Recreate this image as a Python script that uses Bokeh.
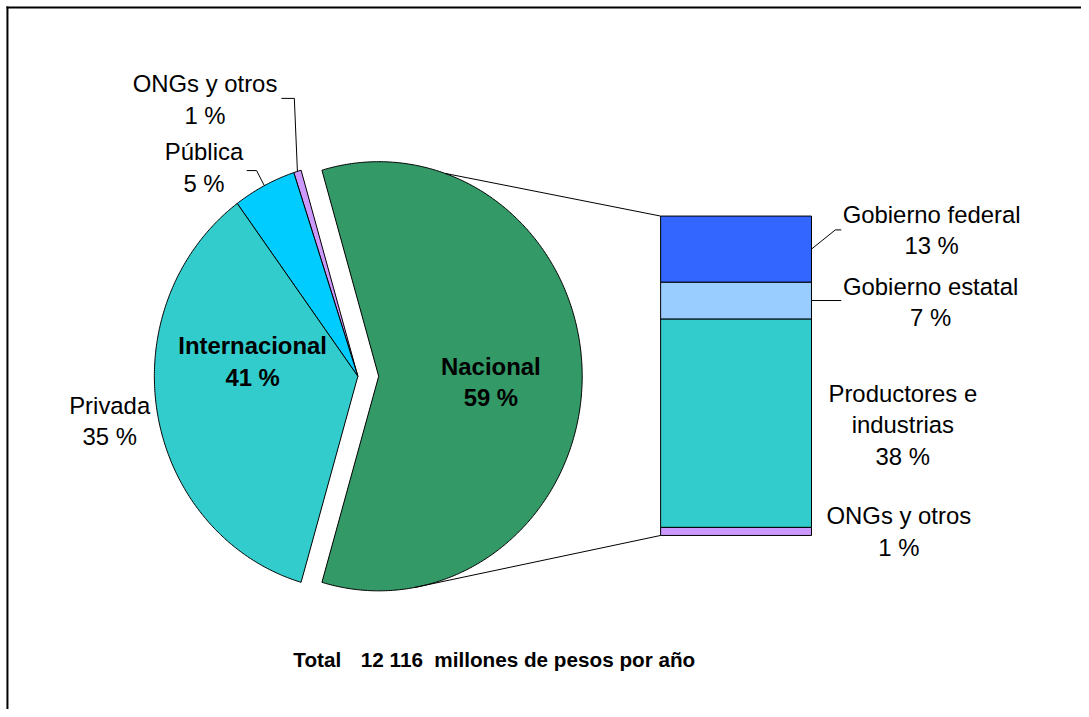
import numpy as np
from bokeh.plotting import figure
from bokeh.models import Range1d
from bokeh.core.properties import value
from bokeh.embed import file_html
from bokeh.resources import INLINE

# ---------------- data ----------------
pie_labels = ["Nacional", "ONGs y otros", "Pública", "Privada"]
pie_values = [59.0, 0.6, 5.0, 35.4]
pie_pct_text = ["59 %", "1 %", "5 %", "35 %"]
pie_colors = ["#339966", "#CC99FF", "#00CCFF", "#33CCCC"]

group_labels = ["Internacional", "Nacional"]
group_pct_text = ["41 %", "59 %"]

bar_labels = ["ONGs y otros", "Productores e\nindustrias", "Gobierno estatal", "Gobierno federal"]
bar_values = [1.5, 38.5, 6.8, 12.2]
bar_pct_text = ["1 %", "38 %", "7 %", "13 %"]
bar_colors = ["#CC99FF", "#33CCCC", "#99CCFF", "#3366FF"]

footer_parts = ["Total", "12 116", "millones de pesos por año"]

# ---------------- layout ----------------
W, H = 1081, 709
RW, RH = 1089, 717
FONT = value("Liberation Sans")
FS = "23.9px"
LH = 1.16

p = figure(width=W, height=H, x_range=Range1d(0, RW), y_range=Range1d(RH, 0),
           output_backend="svg", toolbar_location=None, min_border=0,
           x_axis_location=None, y_axis_location=None)
p.grid.visible = False
p.outline_line_color = None
p.background_fill_color = "white"
p.border_fill_color = "white"

# frame (left and top edges visible)
p.segment(x0=[7, 6], y0=[6, 7], x1=[7, RW], y1=[RH, 7], line_color="black", line_width=2)

# pie geometry
rx, ry = 205, 217
nat_center = (381, 380)
int_center = (360, 380)
total = sum(pie_values)
start = -pie_values[0] / total * 180.0
xs_list, ys_list, mids, centers = [], [], [], []
cum = start
for i, v in enumerate(pie_values):
    a0 = cum
    a1 = cum + v / total * 360.0
    cum = a1
    cx, cy = nat_center if i == 0 else int_center
    n = max(4, int(abs(a1 - a0) * 2))
    t = np.radians(np.linspace(a0, a1, n))
    xs_list.append([cx] + list(cx + rx * np.cos(t)))
    ys_list.append([cy] + list(cy - ry * np.sin(t)))
    mids.append((a0 + a1) / 2)
    centers.append((cx, cy))

p.patches(xs_list, ys_list, fill_color=pie_colors, line_color="black", line_width=1, line_join="miter")

def on_ellipse(idx, ang):
    cx, cy = centers[idx]
    a = np.radians(ang)
    return cx + rx * np.cos(a), cy - ry * np.sin(a)

# bar (own scale)
bar_x0, bar_x1 = 665, 817
bar_top_px, bar_bot_px = 218, 541
btotal = sum(bar_values)
k = btotal / (bar_bot_px - bar_top_px)
p.extra_y_ranges = {"bar": Range1d(start=-(RH - bar_bot_px) * k, end=btotal + bar_top_px * k)}
bottoms = list(np.cumsum([0] + bar_values[:-1]))
tops = list(np.cumsum(bar_values))
p.vbar(x=(bar_x0 + bar_x1) / 2, width=bar_x1 - bar_x0, bottom=bottoms, top=tops,
       y_range_name="bar", fill_color=bar_colors, line_color="black", line_width=1)

def bar_px(val):
    return bar_top_px + (btotal - val) / k

# connector lines between pie and bar
tx, ty = on_ellipse(0, 71)
bx, by = on_ellipse(0, -80)
p.segment(x0=[tx, bx], y0=[ty, by], x1=[bar_x0, bar_x0], y1=[bar_top_px, bar_bot_px],
          line_color="black", line_width=1)

# leader lines for small pie slices
ox, oy = on_ellipse(1, mids[1])
px_, py_ = on_ellipse(2, mids[2])
p.multi_line(xs=[[283, 296, ox], [248, 258, px_]], ys=[[99, 99, oy], [172, 172, py_]],
             line_color="black", line_width=1)

# leader lines for bar labels
fed_mid = bar_px((bottoms[3] + tops[3]) / 2)
est_mid = bar_px((bottoms[2] + tops[2]) / 2)
p.multi_line(xs=[[bar_x1, 841, 847], [bar_x1, 847]], ys=[[fed_mid, 232, 232], [est_mid, est_mid]],
             line_color="black", line_width=1)

# pie labels
p.text(x=[206, 205, 110],
       y=[100, 169, 425],
       text=[f"{pie_labels[1]}\n{pie_pct_text[1]}", f"{pie_labels[2]}\n{pie_pct_text[2]}",
             f"{pie_labels[3]}\n{pie_pct_text[3]}"],
       text_font=FONT, text_font_size=FS, text_align="center", text_baseline="middle",
       text_line_height=LH, text_color="black")
p.text(x=[254, 494], y=[365, 386],
       text=[f"{group_labels[0]}\n{group_pct_text[0]}", f"{group_labels[1]}\n{group_pct_text[1]}"],
       text_font=FONT, text_font_size=FS, text_font_style="bold", text_align="center",
       text_baseline="middle", text_line_height=LH, text_color="black")

# bar labels
p.text(x=[905, 909, 937, 938], y=[537, 429, 305, 232],
       text=[f"{l}\n{t}" for l, t in zip(bar_labels, bar_pct_text)],
       text_font=FONT, text_font_size=FS, text_align="center", text_baseline="middle",
       text_line_height=LH, text_color="black")

# footer
p.text(x=[295, 363, 437], y=[666, 666, 666], text=footer_parts,
       text_font=FONT, text_font_size="20.7px", text_font_style="bold",
       text_align="left", text_baseline="middle", text_color="black")

open("out.html", "w").write(file_html(p, INLINE))
